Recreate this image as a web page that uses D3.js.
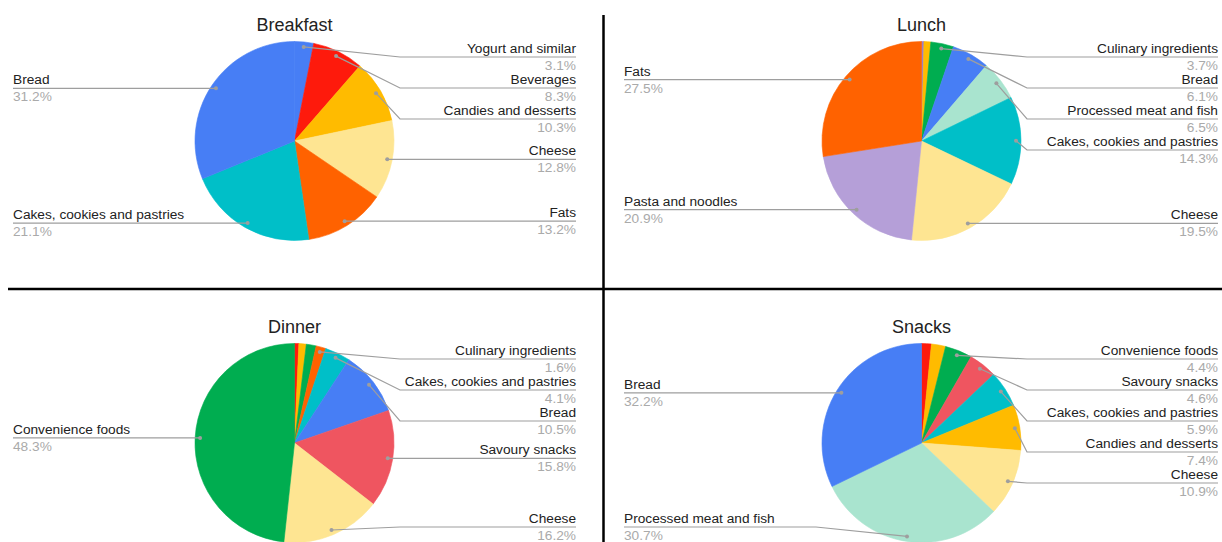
<!DOCTYPE html>
<html>
<head>
<meta charset="utf-8">
<script src="https://cdn.jsdelivr.net/npm/d3@7"></script>
<style>
  html, body { margin: 0; padding: 0; background: #fff; }
  svg { display: block; font-family: "Liberation Sans", Arial, sans-serif; }
</style>
</head>
<body>
<svg id="chart" width="1222" height="542"></svg>
<script>
// ---- Data (percentages, clockwise from 12 o'clock). Empty names = unlabeled slivers ----
const breakfastCategories = ["Yogurt and similar", "Beverages", "Candies and desserts", "Cheese", "Fats", "Cakes, cookies and pastries", "Bread"];
const breakfastValues     = [3.1, 8.3, 10.3, 12.8, 13.2, 21.1, 31.2];
const breakfastColors     = ["#477ef5", "#fe1a0c", "#ffbb00", "#fee592", "#ff6200", "#00bfc8", "#477ef5"];

const lunchCategories = ["", "", "Culinary ingredients", "Bread", "Processed meat and fish", "Cakes, cookies and pastries", "Cheese", "Pasta and noodles", "Fats"];
const lunchValues     = [0.4, 1.1, 3.7, 6.1, 6.5, 14.3, 19.5, 20.9, 27.5];
const lunchColors     = ["#9b7fc9", "#ffbb00", "#00ad50", "#477ef5", "#a9e4cf", "#00bfc8", "#fee592", "#b59fd8", "#ff6200"];

const dinnerCategories = ["", "", "", "Culinary ingredients", "Cakes, cookies and pastries", "Bread", "Savoury snacks", "Cheese", "Convenience foods"];
const dinnerValues     = [0.7, 1.2, 1.6, 1.6, 4.1, 10.5, 15.8, 16.2, 48.3];
const dinnerColors     = ["#fe1a0c", "#ffbb00", "#00ad50", "#ff6200", "#00bfc8", "#477ef5", "#ef5560", "#fee592", "#00ad50"];

const snacksCategories = ["", "", "Convenience foods", "Savoury snacks", "Cakes, cookies and pastries", "Candies and desserts", "Cheese", "Processed meat and fish", "Bread"];
const snacksValues     = [1.6, 2.3, 4.4, 4.6, 5.9, 7.4, 10.9, 30.7, 32.2];
const snacksColors     = ["#fe1a0c", "#ffbb00", "#00ad50", "#ef5560", "#00bfc8", "#ffbb00", "#fee592", "#a9e4cf", "#477ef5"];

const chartTitles = ["Breakfast", "Lunch", "Dinner", "Snacks"];

// ---- Layout ----
const svg = d3.select("#chart");
const colCx = [294.5, 921.5];
const rowCy = [141, 443];
const leftLabelX = [13, 624];
const rightLabelX = [576, 1218];
const R = 99.5;
const labelFont = 13.7;

// dividers
svg.append("line").attr("x1", 603.5).attr("x2", 603.5).attr("y1", 15).attr("y2", 542)
  .attr("stroke", "#000").attr("stroke-width", 2.5);
svg.append("line").attr("x1", 8).attr("x2", 1222).attr("y1", 289).attr("y2", 289)
  .attr("stroke", "#000").attr("stroke-width", 2.5);

const charts = [
  { title: chartTitles[0], cats: breakfastCategories, vals: breakfastValues, cols: breakfastColors, col: 0, row: 0 },
  { title: chartTitles[1], cats: lunchCategories, vals: lunchValues, cols: lunchColors, col: 1, row: 0 },
  { title: chartTitles[2], cats: dinnerCategories, vals: dinnerValues, cols: dinnerColors, col: 0, row: 1 },
  { title: chartTitles[3], cats: snacksCategories, vals: snacksValues, cols: snacksColors, col: 1, row: 1 }
];

const pie = d3.pie().sort(null).value(d => d.v);
const arc = d3.arc().innerRadius(0).outerRadius(R);

charts.forEach(c => {
  const cx = colCx[c.col], cy = rowCy[c.row];
  const g = svg.append("g");

  g.append("text").attr("x", cx).attr("y", cy - 110.5)
    .attr("text-anchor", "middle").attr("font-size", 18).attr("fill", "#222")
    .text(c.title);

  const data = c.vals.map((v, i) => ({ v, name: c.cats[i], color: c.cols[i] }));
  const arcs = pie(data);

  g.append("g").attr("transform", `translate(${cx},${cy})`)
    .selectAll("path").data(arcs).join("path")
    .attr("d", arc).attr("fill", d => d.data.color)
    .attr("stroke", d => d.data.color).attr("stroke-width", 0.6).attr("stroke-linejoin", "round");

  // labels
  const items = arcs.filter(a => a.data.name !== "").map(a => {
    const mid = (a.startAngle + a.endAngle) / 2;
    const dx = Math.sin(mid) * R * 0.95, dy = -Math.cos(mid) * R * 0.95;
    return { a, mid, px: cx + dx, py: cy + dy, side: mid < Math.PI ? "right" : "left" };
  });

  const top = cy - 84, bottom = cy + 84, gap = 31;
  ["left", "right"].forEach(side => {
    const s = items.filter(d => d.side === side).sort((p, q) => p.py - q.py);
    s.forEach((d, i) => {
      d.ly = Math.max(d.py, top, i > 0 ? s[i - 1].ly + gap : -Infinity);
    });
    for (let i = s.length - 1; i >= 0; i--) {
      const lim = i === s.length - 1 ? bottom : s[i + 1].ly - gap;
      if (s[i].ly > lim) s[i].ly = lim;
    }
  });

  items.forEach(d => {
    const right = d.side === "right";
    const bendX = right ? cx + R + 6 : cx - R - 6;
    const endX = right ? rightLabelX[c.col] : leftLabelX[c.col];
    const path = d3.path();
    path.moveTo(d.px, d.py);
    path.lineTo(bendX, d.ly);
    path.lineTo(endX, d.ly);
    g.append("path").attr("d", path.toString()).attr("fill", "none")
      .attr("stroke", "#9e9e9e").attr("stroke-width", 1.2);
    g.append("circle").attr("cx", d.px).attr("cy", d.py).attr("r", 2)
      .attr("fill", "#9e9e9e");
    const anchor = right ? "end" : "start";
    g.append("text").attr("x", endX).attr("y", d.ly - 4)
      .attr("text-anchor", anchor).attr("font-size", labelFont).attr("fill", "#222")
      .text(d.a.data.name);
    g.append("text").attr("x", endX).attr("y", d.ly + 13)
      .attr("text-anchor", anchor).attr("font-size", labelFont).attr("fill", "#aaa")
      .text(d.a.data.v.toFixed(1) + "%");
  });
});
</script>
</body>
</html>
